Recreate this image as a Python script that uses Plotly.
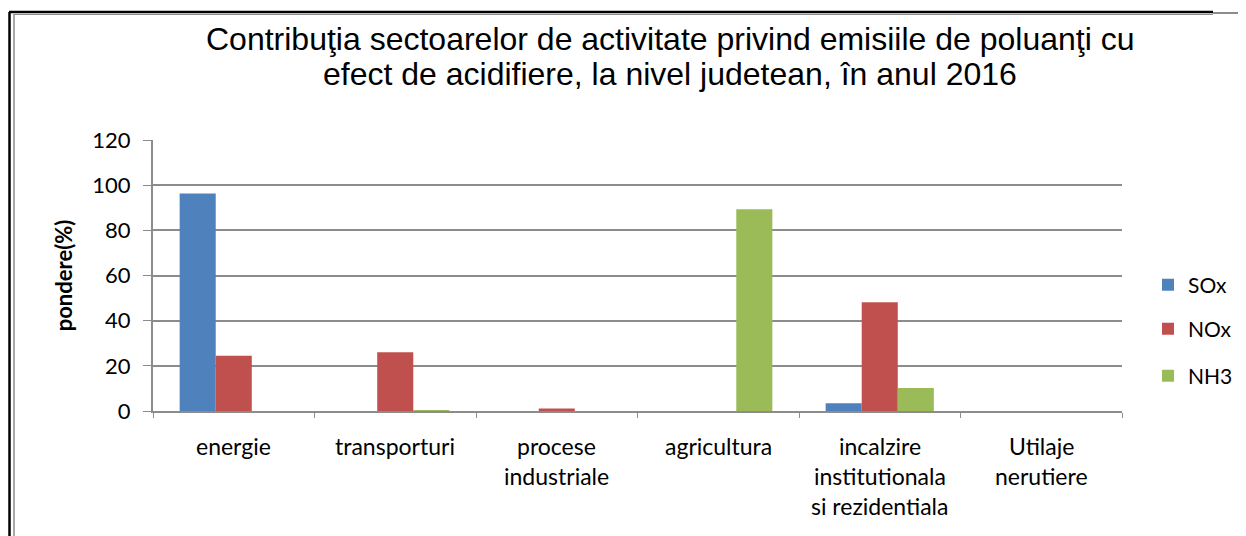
"""Contributia sectoarelor de activitate - emisii poluanti cu efect de acidifiere."""
import plotly.graph_objects as go

# Data (pondere %)
categories = [
    "energie",
    "transporturi",
    "procese<br>industriale",
    "agricultura",
    "incalzire<br>institutionala<br>si rezidentiala",
    "Utilaje<br>nerutiere",
]
sox = [96.3, 0.0, 0.0, 0.0, 3.4, 0.0]
nox = [24.5, 26.0, 1.1, 0.0, 48.2, 0.0]
nh3 = [0.0, 0.4, 0.0, 89.3, 10.2, 0.0]

title_lines = [
    "Contribuţia sectoarelor de activitate privind emisiile de poluanţi cu",
    "efect de acidifiere, la nivel judetean, în anul 2016",
]

series = [
    ("SOx", sox, "#4F81BD", "legend"),
    ("NOx", nox, "#C0504D", "legend2"),
    ("NH3", nh3, "#9BBB59", "legend3"),
]

W, H = 1246, 536
# the page body adds an 8px offset; positions below are in window pixels
OFF = 8
PL, PR, PT, PB = 153, 1122, 140, 411  # plot area in window pixels
L, T = PL - OFF, PT - OFF
R, B = W - (PR - OFF), H - (PB - OFF)
PW, PH = PR - PL, PB - PT


def px(x):
    """Window pixel x -> paper x."""
    return (x - PL) / PW


def py(y):
    """Window pixel y -> paper y."""
    return (PB - y) / PH


LABEL_FONT = "Lato, 'Open Sans', sans-serif"
TITLE_FONT = "Liberation Sans, Arial, sans-serif"

fig = go.Figure()
for name, vals, color, leg in series:
    fig.add_trace(
        go.Bar(
            x=categories,
            y=vals,
            name=name,
            marker=dict(color=color, line=dict(width=0)),
            legend=leg,
            showlegend=True,
        )
    )

legend_common = dict(
    x=px(1148),
    xanchor="left",
    yanchor="middle",
    bgcolor="rgba(0,0,0,0)",
    font=dict(family=LABEL_FONT, size=21, color="#000"),
)

fig.update_layout(
    width=W,
    height=H,
    margin=dict(l=L, r=R, t=T, b=B, autoexpand=False),
    paper_bgcolor="white",
    plot_bgcolor="white",
    showlegend=True,
    barmode="group",
    bargap=0.33,
    bargroupgap=0,
    xaxis=dict(
        showline=True,
        linecolor="#8c8c8c",
        linewidth=2,
        ticks="outside",
        tickson="boundaries",
        ticklen=5,
        tickcolor="#8c8c8c",
        showticklabels=False,
        showgrid=False,
        automargin=False,
    ),
    yaxis=dict(
        range=[0, 120],
        dtick=20,
        showgrid=True,
        gridcolor="#8c8c8c",
        gridwidth=2,
        showline=True,
        linecolor="#8c8c8c",
        linewidth=2,
        ticks="outside",
        ticklen=8,
        tickcolor="#8c8c8c",
        ticklabelstandoff=8,
        tickfont=dict(family=LABEL_FONT, size=22, color="#000"),
        title=dict(
            text="<b>pondere(%)</b>",
            font=dict(family=LABEL_FONT, size=22, color="#000"),
            standoff=14,
        ),
        zeroline=False,
        automargin=False,
    ),
    legend=dict(y=py(285), **legend_common),
    legend2=dict(y=py(329), **legend_common),
    legend3=dict(y=py(376), **legend_common),
)

# Title, one annotation per line (tight line spacing as in the source)
for i, line in enumerate(title_lines):
    fig.add_annotation(
        x=px(670),
        xref="paper",
        y=py(39 + 35 * i),
        yref="paper",
        text=line,
        showarrow=False,
        xanchor="center",
        yanchor="middle",
        font=dict(family=TITLE_FONT, size=32, color="#000"),
    )

# Category labels, one annotation per line to match the wide line spacing
for cat in categories:
    for i, line in enumerate(cat.split("<br>")):
        fig.add_annotation(
            x=cat,
            xref="x",
            y=py(446 + 30 * i),
            yref="paper",
            text=line,
            showarrow=False,
            xanchor="center",
            yanchor="middle",
            font=dict(family=LABEL_FONT, size=23, color="#000"),
        )

# Chart frame (double border at the left / top edge)
frame = [
    (9.5, 12, 9.5, H, "#000", 2.5),
    (14, 14, 14, H, "#8c8c8c", 1.5),
    (9, 12, 1213, 12, "#000", 2.5),
    (14, 14.5, 1213, 14.5, "#8c8c8c", 1),
    (1213, 13, W + OFF, 13, "#8c8c8c", 2),
]
for x0, y0, x1, y1, c, w in frame:
    fig.add_shape(
        type="line",
        xref="paper",
        yref="paper",
        x0=px(x0),
        y0=py(y0),
        x1=px(x1),
        y1=py(y1),
        line=dict(color=c, width=w),
    )

fig.write_html("out.html")
